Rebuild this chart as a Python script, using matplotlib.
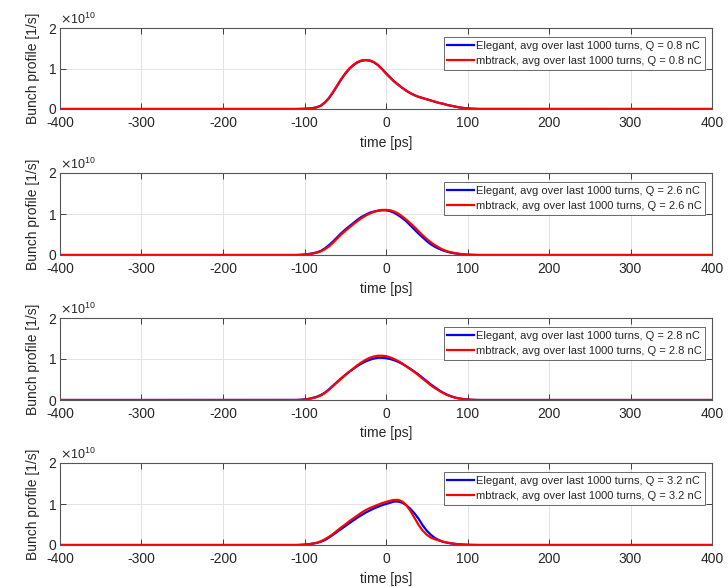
import numpy as np
import matplotlib
matplotlib.use("Agg")
import matplotlib.pyplot as plt
from matplotlib.ticker import ScalarFormatter

plt.rcParams['font.family'] = ['Liberation Sans', 'DejaVu Sans']
plt.rcParams['axes.unicode_minus'] = False

# time axis [ps]
t_core = list(range(-110, 120, 5))
time_ps = [-400] + t_core + [400]

charges = ["0.8", "2.6", "2.8", "3.2"]

# bunch profiles, in units of 1e10 1/s (values at time_ps core points)
elegant_08 = [0, 0.002, 0.005, 0.011, 0.022, 0.043, 0.083, 0.16, 0.27, 0.41, 0.57, 0.73, 0.87, 0.99,
              1.08, 1.15, 1.19, 1.205, 1.195, 1.155, 1.085, 0.99, 0.88, 0.78, 0.68, 0.60, 0.52, 0.45,
              0.39, 0.34, 0.30, 0.27, 0.24, 0.21, 0.18, 0.15, 0.13, 0.10, 0.08, 0.06, 0.04, 0.025,
              0.015, 0.008, 0.004, 0.001]
mbtrack_08 = [0, 0.002, 0.005, 0.01, 0.02, 0.04, 0.08, 0.16, 0.27, 0.42, 0.58, 0.74, 0.88, 1.00,
              1.09, 1.16, 1.20, 1.21, 1.20, 1.16, 1.09, 0.99, 0.88, 0.78, 0.68, 0.60, 0.52, 0.45,
              0.39, 0.34, 0.30, 0.27, 0.24, 0.21, 0.18, 0.15, 0.13, 0.10, 0.08, 0.06, 0.04, 0.025,
              0.015, 0.008, 0.004, 0.001]

elegant_26 = [0, 0.004, 0.012, 0.025, 0.04, 0.065, 0.10, 0.16, 0.24, 0.33, 0.43, 0.53, 0.62, 0.70,
              0.78, 0.86, 0.93, 0.98, 1.03, 1.06, 1.08, 1.09, 1.09, 1.07, 1.03, 0.97, 0.90, 0.82,
              0.72, 0.62, 0.52, 0.43, 0.34, 0.26, 0.20, 0.15, 0.11, 0.08, 0.055, 0.038, 0.025,
              0.015, 0.008, 0.004, 0.001, 0]
mbtrack_26 = [0, 0.003, 0.01, 0.02, 0.035, 0.055, 0.09, 0.14, 0.21, 0.30, 0.40, 0.50, 0.59, 0.67,
              0.75, 0.83, 0.90, 0.96, 1.01, 1.05, 1.08, 1.10, 1.10, 1.09, 1.06, 1.01, 0.94, 0.86,
              0.77, 0.68, 0.58, 0.48, 0.39, 0.31, 0.24, 0.18, 0.13, 0.09, 0.065, 0.045, 0.03,
              0.018, 0.01, 0.005, 0.002, 0]

elegant_28 = [0.001, 0.005, 0.014, 0.028, 0.05, 0.08, 0.12, 0.18, 0.26, 0.35, 0.44, 0.53, 0.61, 0.69,
              0.76, 0.83, 0.89, 0.94, 0.98, 1.01, 1.03, 1.03, 1.02, 1.00, 0.97, 0.93, 0.88, 0.82,
              0.76, 0.69, 0.62, 0.54, 0.46, 0.38, 0.31, 0.24, 0.18, 0.13, 0.09, 0.06, 0.038,
              0.022, 0.012, 0.006, 0.002, 0]
mbtrack_28 = [0, 0.004, 0.012, 0.025, 0.045, 0.07, 0.11, 0.17, 0.25, 0.34, 0.43, 0.52, 0.61, 0.69,
              0.77, 0.85, 0.92, 0.98, 1.03, 1.06, 1.08, 1.08, 1.07, 1.04, 1.00, 0.95, 0.89, 0.82,
              0.75, 0.68, 0.60, 0.52, 0.44, 0.36, 0.29, 0.23, 0.17, 0.12, 0.085, 0.055, 0.035,
              0.02, 0.011, 0.005, 0.002, 0]

elegant_32 = [0, 0.003, 0.009, 0.018, 0.032, 0.05, 0.08, 0.12, 0.18, 0.25, 0.32, 0.39, 0.46, 0.53,
              0.60, 0.67, 0.73, 0.79, 0.84, 0.89, 0.93, 0.97, 1.00, 1.03, 1.06, 1.06, 1.03, 0.97,
              0.88, 0.77, 0.64, 0.48, 0.35, 0.25, 0.17, 0.12, 0.08, 0.055, 0.038, 0.025, 0.016,
              0.01, 0.005, 0.002, 0.001, 0]
mbtrack_32 = [0, 0.003, 0.01, 0.02, 0.035, 0.055, 0.09, 0.14, 0.20, 0.27, 0.35, 0.43, 0.50, 0.58,
              0.65, 0.72, 0.79, 0.85, 0.90, 0.94, 0.98, 1.02, 1.05, 1.08, 1.10, 1.10, 1.06, 0.97,
              0.83, 0.66, 0.49, 0.35, 0.25, 0.18, 0.14, 0.11, 0.08, 0.06, 0.04, 0.028, 0.018,
              0.011, 0.006, 0.003, 0.001, 0]

elegant_series = [elegant_08, elegant_26, elegant_28, elegant_32]
mbtrack_series = [mbtrack_08, mbtrack_26, mbtrack_28, mbtrack_32]

x_ticks = [-400, -300, -200, -100, 0, 100, 200, 300, 400]
y_ticks = [0, 1e10, 2e10]

W, H = 728, 587
fig = plt.figure(figsize=(W / 100, H / 100), dpi=100)

left = 60 / W
width = 652 / W
tops = [28, 173, 318, 463]
bottoms = [109, 255, 400, 545]

edge = '#262626'
for i in range(4):
    ax = fig.add_axes([left, 1 - bottoms[i] / H, width, (bottoms[i] - tops[i]) / H])
    tt = np.array(time_ps, dtype=float)
    yb = np.array([0] + elegant_series[i] + [0]) * 1e10
    yr = np.array([0] + mbtrack_series[i] + [0]) * 1e10
    ax.plot(tt, yb, color=(0, 0, 1), lw=1.6,
            label=f"Elegant, avg over last 1000 turns, Q = {charges[i]} nC")
    ax.plot(tt, yr, color=(1, 0, 0), lw=1.6,
            label=f"mbtrack, avg over last 1000 turns, Q = {charges[i]} nC")
    ax.set_xlim(-400, 400)
    ax.set_ylim(0, 2e10)
    ax.set_xticks(x_ticks)
    ax.set_yticks(y_ticks)
    fmt = ScalarFormatter(useMathText=True)
    fmt.set_powerlimits((0, 0))
    ax.yaxis.set_major_formatter(fmt)
    ax.yaxis.get_offset_text().set_fontsize(9)
    ax.yaxis.get_offset_text().set_color(edge)
    ax.grid(True, color='#e3e3e3', lw=0.7)
    ax.set_axisbelow(True)
    ax.tick_params(direction='in', top=True, right=True, labelsize=10, colors=edge,
                   length=4, width=0.6, pad=2)
    ax.tick_params(axis='x', pad=5)
    for s in ax.spines.values():
        s.set_color('#555555')
        s.set_linewidth(0.8)
    ax.set_xlabel('time [ps]', fontsize=10, color=edge, labelpad=4)
    ax.set_ylabel('Bunch profile [1/s]', fontsize=10, color=edge, labelpad=6)
    leg = ax.legend(loc='upper right', fontsize=8, frameon=True, fancybox=False,
                    edgecolor='#262626', bbox_to_anchor=(0.989, 0.885),
                    borderaxespad=0, handlelength=2.4,
                    handletextpad=0.15, borderpad=0.3, labelspacing=0.5)
    leg.get_frame().set_linewidth(0.6)
    for tx in leg.get_texts():
        tx.set_color(edge)

fig.savefig('out.png', dpi=100)
